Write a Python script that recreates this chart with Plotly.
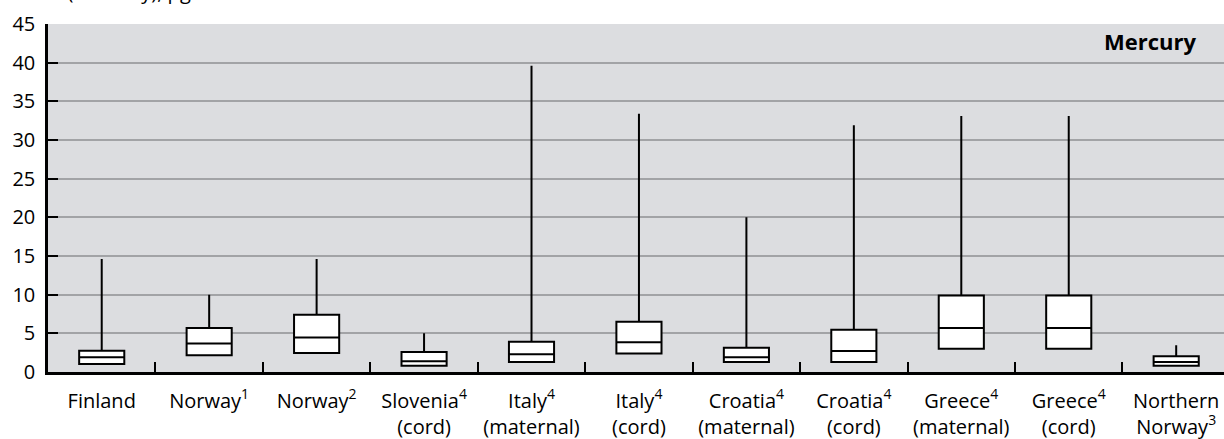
import plotly.graph_objects as go

# Blood mercury distribution by study population
categories = [
    "Finland",
    "Norway<sup>1</sup>",
    "Norway<sup>2</sup>",
    "Slovenia<sup>4</sup><br>(cord)",
    "Italy<sup>4</sup><br>(maternal)",
    "Italy<sup>4</sup><br>(cord)",
    "Croatia<sup>4</sup><br>(maternal)",
    "Croatia<sup>4</sup><br>(cord)",
    "Greece<sup>4</sup><br>(maternal)",
    "Greece<sup>4</sup><br>(cord)",
    "Northern<br>Norway<sup>3</sup>",
]
q1_vals = [1.05, 2.15, 2.45, 0.8, 1.3, 2.4, 1.3, 1.3, 3.0, 3.0, 0.8]
median_vals = [1.9, 3.7, 4.45, 1.4, 2.3, 3.85, 1.9, 2.7, 5.7, 5.7, 1.3]
q3_vals = [2.75, 5.7, 7.4, 2.6, 3.9, 6.5, 3.15, 5.45, 9.9, 9.9, 2.05]
max_vals = [14.6, 10.0, 14.6, 5.0, 39.6, 33.4, 20.0, 31.9, 33.1, 33.1, 3.45]

y_ticks = [0, 5, 10, 15, 20, 25, 30, 35, 40, 45]

FONT = "Open Sans, Noto Sans, DejaVu Sans, sans-serif"

fig = go.Figure()
fig.add_trace(go.Box(
    x=categories,
    q1=q1_vals,
    median=median_vals,
    q3=q3_vals,
    lowerfence=q1_vals,
    upperfence=max_vals,
    width=0.42,
    whiskerwidth=0,
    fillcolor="white",
    line=dict(color="black", width=2),
    boxpoints=False,
    hoverinfo="skip",
    showlegend=False,
))

fig.add_annotation(
    text="Mercury", xref="paper", yref="paper", x=0.978, y=0.95,
    xanchor="right", yanchor="middle", showarrow=False,
    font=dict(family=FONT, size=22, color="black", weight="bold"),
)
fig.add_annotation(
    text="Blood (mercury), µg/L", xref="paper", yref="paper",
    x=-0.036, y=1.0, yshift=17, xanchor="left", yanchor="bottom", showarrow=False,
    font=dict(family=FONT, size=20, color="black"),
)

fig.update_layout(
    width=1224, height=439,
    margin=dict(l=48, r=0, t=24, b=67),
    paper_bgcolor="white",
    plot_bgcolor="#dcdde0",
    font=dict(family=FONT, size=20, color="black"),
    xaxis=dict(
        type="category",
        range=[-0.5, 10.445],
        tickson="boundaries",
        ticks="inside", ticklen=10, tickwidth=2, tickcolor="black",
        showline=True, linecolor="black", linewidth=2.5,
        showgrid=False, zeroline=False,
        ticklabelstandoff=9,
        tickfont=dict(family=FONT, size=20, color="black"),
    ),
    yaxis=dict(
        range=[0, 45],
        tickvals=y_ticks,
        ticks="inside", ticklen=10, tickwidth=2, tickcolor="black",
        showline=True, linecolor="black", linewidth=2.5,
        showgrid=True, gridcolor="#a2a3a6", gridwidth=1.5,
        zeroline=False,
        ticklabelstandoff=6,
        tickfont=dict(family=FONT, size=20, color="black"),
    ),
)

fig.write_html("out.html")
